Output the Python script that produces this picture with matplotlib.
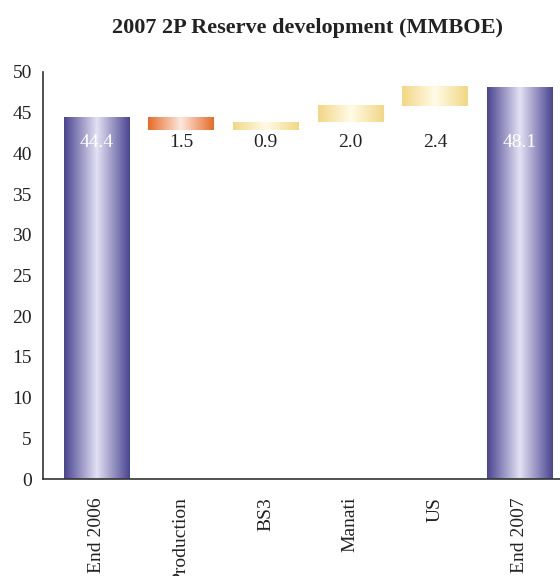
import numpy as np
import matplotlib
matplotlib.use("Agg")
import matplotlib.pyplot as plt
from matplotlib.colors import LinearSegmentedColormap

# valores del gráfico (MMBOE)
categorias = ["End 2006", "Production", "BS3", "Manati", "US", "End 2007"]
inicio = 44.4
cambios = [-1.5, 0.9, 2.0, 2.4]
final = 48.1
etiquetas = ["44.4", "1.5", "0.9", "2.0", "2.4", "48.1"]
tipos = ["total", "neg", "pos", "pos", "pos", "total"]

plt.rcParams["font.family"] = ["Liberation Serif", "DejaVu Serif"]

paletas = {
    "total": LinearSegmentedColormap.from_list("t", ["#4a4590", "#e3e1f3", "#4a4590"]),
    "neg": LinearSegmentedColormap.from_list("n", ["#e56c28", "#fde7de", "#e56c28"]),
    "pos": LinearSegmentedColormap.from_list("p", ["#f2d785", "#fffbe6", "#f2d785"]),
}

# base y alto de cada barra (cascada)
niveles = np.concatenate([[inicio], inicio + np.cumsum(cambios)])
bases = [0.0]
altos = [inicio]
for i, c in enumerate(cambios):
    bases.append(min(niveles[i], niveles[i + 1]))
    altos.append(abs(c))
bases.append(0.0)
altos.append(final)

fig = plt.figure(figsize=(5.6, 5.76), dpi=100)
ax = fig.add_axes([43 / 560, 1 - 479 / 576, 1 - 43 / 560, (479 - 72) / 576])

ancho = 0.77
gradiente = np.linspace(0, 1, 256).reshape(1, -1)
x = np.arange(len(categorias))
for xi, b, h, t in zip(x, bases, altos, tipos):
    ax.imshow(gradiente, cmap=paletas[t], aspect="auto",
              extent=[xi - ancho / 2, xi + ancho / 2, b, b + h], zorder=2)

for xi, lab, t in zip(x, etiquetas, tipos):
    color = "white" if t == "total" else "#222222"
    ax.text(xi, 41.3, lab, ha="center", va="center", fontsize=14,
            color=color, zorder=3)

ax.set_xlim(-0.632, 5.479)
ax.set_ylim(0, 50)
ax.set_yticks(range(0, 51, 5))
ax.set_xticks(x)
ax.set_xticklabels(categorias, rotation=90, va="top", ha="center")
ax.tick_params(axis="both", length=0, labelsize=14, colors="#222222")
ax.tick_params(axis="y", pad=8)
ax.tick_params(axis="x", pad=13)
for s in ["top", "right"]:
    ax.spines[s].set_visible(False)
ax.spines["left"].set_color("#333333")
ax.spines["bottom"].set_color("#333333")
ax.spines["left"].set_linewidth(1.2)
ax.spines["bottom"].set_linewidth(1.2)

fig.text(307 / 560, 1 - 28 / 576, "2007 2P Reserve development (MMBOE)",
         ha="center", va="center", fontsize=16, fontweight="bold", color="#222222")

fig.savefig("out.png", dpi=100)
